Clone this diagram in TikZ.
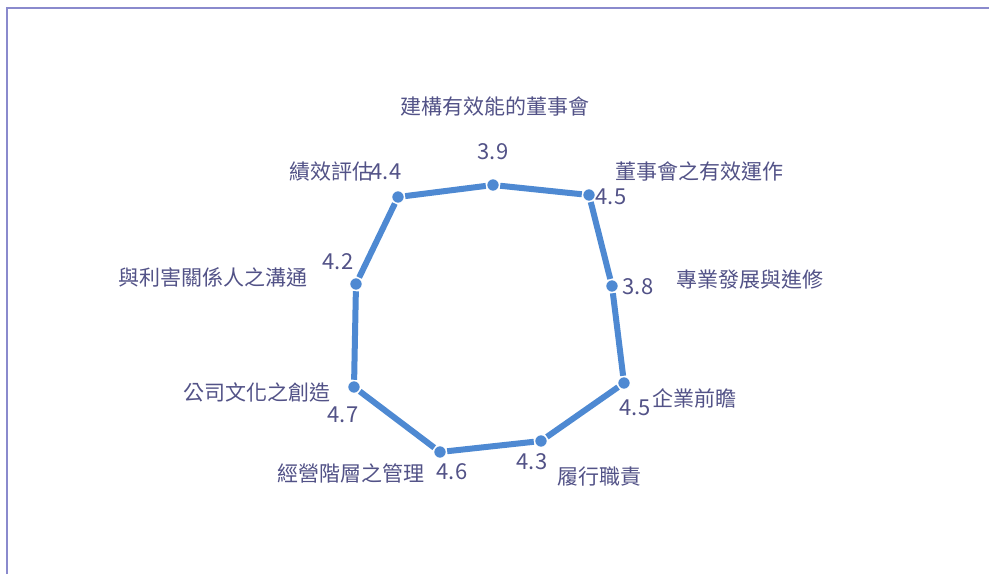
\documentclass[tikz,border=0pt]{standalone}
\usepackage{fontspec}
\setmainfont{Noto Sans CJK TC}
\usepackage{tikz}
\usetikzlibrary{positioning}
\definecolor{linecol}{RGB}{78,137,210}
\definecolor{txtcol}{RGB}{82,82,135}
\definecolor{framecol}{RGB}{138,138,205}
\tikzset{circ/.style = {fill=linecol, draw=white, line width=1.5, circle, inner sep = 0, minimum size = 13}}
\tikzset{lbl/.style = {text=txtcol, inner sep = 0, font=\fontsize{21}{21}\selectfont}}
\tikzset{val/.style = {text=txtcol, inner sep = 0, font=\fontsize{22}{22}\selectfont}}
\tikzset{link/.style = {linecol, line width = 6}}

\begin{document}
\begin{tikzpicture}[x=1pt, y=-1pt]
          \useasboundingbox (0, 0) rectangle (989, 574);
          \fill [white] (0, 0) rectangle (989, 574);
          \draw [framecol, line width = 2] (7, 574) -- (7, 8) -- (989, 8);

          \node [circ] (p1) at (493, 185) {};
          \node [circ] (p2) at (589, 195) {};
          \node [circ] (p3) at (612, 286) {};
          \node [circ] (p4) at (624, 383) {};
          \node [circ] (p5) at (541, 441) {};
          \node [circ] (p6) at (440, 452) {};
          \node [circ] (p7) at (354, 387) {};
          \node [circ] (p8) at (356, 284) {};
          \node [circ] (p9) at (398, 197) {};

          \draw [link] (p1) -- (p2) -- (p3) -- (p4) -- (p5) -- (p6) -- (p7) -- (p8) -- (p9) -- (p1);

          \node [lbl] (t1) at (495, 107) {建構有效能的董事會};
          \node [val] (v1) at (493, 152) {3.9};

          \node [lbl] (t2) at (699, 172) {董事會之有效運作};
          \node [val] (v2) at (611, 197) {4.5};

          \node [lbl] (t3) at (750, 280) {專業發展與進修};
          \node [val] (v3) at (638, 287) {3.8};

          \node [lbl] (t4) at (694, 398) {企業前瞻};
          \node [val] (v4) at (635, 408) {4.5};

          \node [lbl] (t5) at (599, 477) {履行職責};
          \node [val] (v5) at (532, 462) {4.3};

          \node [lbl] (t6) at (351, 473) {經營階層之管理};
          \node [val] (v6) at (452, 472) {4.6};

          \node [lbl] (t7) at (257, 392) {公司文化之創造};
          \node [val] (v7) at (343, 415) {4.7};

          \node [lbl] (t8) at (213, 277) {與利害關係人之溝通};
          \node [val] (v8) at (338, 262) {4.2};

          \node [lbl] (t9) at (331, 172) {績效評估};
          \node [val] (v9) at (386, 172) {4.4};
        \end{tikzpicture}
\end{document}
